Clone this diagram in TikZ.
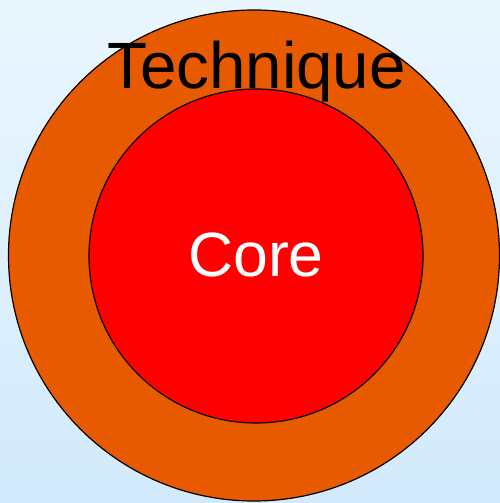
\documentclass[tikz,border=0pt]{standalone}
\usepackage{fontspec}
\setmainfont{Liberation Sans}
\usetikzlibrary{shapes,positioning}
\definecolor{ringorange}{RGB}{232,90,0}
\definecolor{corered}{RGB}{255,0,0}
\definecolor{bgtop}{RGB}{234,246,254}
\definecolor{bgbottom}{RGB}{210,234,252}

\begin{document}
\begin{tikzpicture}[x=1pt, y=1pt]
			\shade [top color=bgtop, bottom color=bgbottom] (0,0) rectangle (500,503);
			\useasboundingbox (0,0) rectangle (500,503);
			\node [circle, draw, line width=1.2pt, inner sep=0pt,
    minimum size=491pt, fill=ringorange] (technique) at (254,247.5) {};
			\node [circle, draw, line width=1.2pt, inner sep=0pt,
    minimum size=334pt, fill=corered] (core) at (256,247) {};
			\node [anchor=base, inner sep=0pt, text=black] (techniquelabel) at (256.5,414) {\fontsize{65.5}{66}\selectfont Technique};
			\node [anchor=base, inner sep=0pt, text=white] (corelabel) at (256,226) {\fontsize{62.5}{63}\selectfont Core};
		\end{tikzpicture}
\end{document}
